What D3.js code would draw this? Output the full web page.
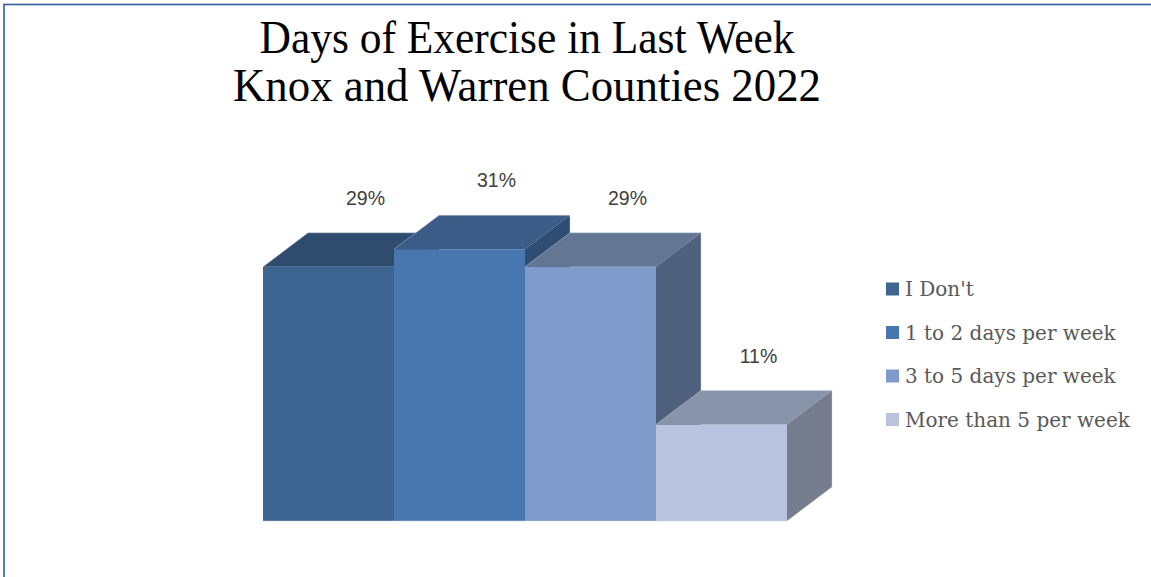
<!DOCTYPE html>
<html><head><meta charset="utf-8">
<script src="https://cdn.jsdelivr.net/npm/d3@7"></script>
<style>html,body{margin:0;padding:0;background:#fff;}svg{display:block;}</style>
</head><body>
<svg id="c" width="1151" height="577"></svg>
<script>
const categories = ["I Don't", "1 to 2 days per week", "3 to 5 days per week", "More than 5 per week"];
const values = [29, 31, 29, 11];
const frontColors = ["#3c6591", "#4877b0", "#7f9bcb", "#b8c4de"];
const topColors = ["#2f4b6e", "#3a5c86", "#637795", "#8894a9"];
const sideColors = ["#2b4566", "#2f4c72", "#4f617d", "#757c8e"];
const titleLines = ["Days of Exercise in Last Week", "Knox and Warren Counties 2022"];

const svg = d3.select("#c");
svg.append("rect").attr("x",0).attr("y",0).attr("width",1151).attr("height",577).attr("fill","#fff");
svg.append("rect").attr("x",4).attr("y",4.5).attr("width",1200).attr("height",700)
  .attr("fill","none").attr("stroke","#2f5f98").attr("stroke-width",1.6);

// title
const titleW = [535, 588];
titleLines.forEach((t,i)=>{
  const el = svg.append("text").attr("x",527).attr("y",53+i*48).attr("text-anchor","middle")
    .attr("font-family","Liberation Serif").attr("font-size",47).attr("fill","#000").text(t);
  el.attr("textLength", titleW[i]).attr("lengthAdjust","spacingAndGlyphs");
});

const x = d3.scaleBand().domain(categories).range([263, 787]).padding(0);
const y = d3.scaleLinear().domain([0, 30]).range([521, 258]);
const dx = 45, dy = -34;

const g = svg.append("g");
categories.forEach((c,i)=>{
  const x0 = x(c), x1 = x0 + x.bandwidth(), y0 = y(0), y1 = y(values[i]);
  const bg = g.append("g");
  bg.append("path").attr("d", `M${x0},${y0}L${x1},${y0}L${x1},${y1}L${x0},${y1}Z`)
    .attr("fill", frontColors[i]);
  bg.append("path").attr("d", `M${x0},${y1}L${x1},${y1}L${x1+dx},${y1+dy}L${x0+dx},${y1+dy}Z`)
    .attr("fill", topColors[i]);
  bg.append("path").attr("d", `M${x1},${y0}L${x1+dx},${y0+dy}L${x1+dx},${y1+dy}L${x1},${y1}Z`)
    .attr("fill", sideColors[i]);
  // faint light outline on outer edges
  bg.append("path").attr("d", `M${x0},${y0}L${x1},${y0}L${x1+dx},${y0+dy}L${x1+dx},${y1+dy}L${x0+dx},${y1+dy}L${x0},${y1}`)
    .attr("fill","none").attr("stroke","rgba(200,208,222,0.6)").attr("stroke-width",0.8);
});
categories.forEach((c,i)=>{
  svg.append("text").attr("x", x(c) + x.bandwidth()/2 + 37).attr("y", y(values[i]) + dy - 28)
    .attr("text-anchor","middle").attr("font-family","Liberation Sans").attr("font-size",19.5)
    .attr("fill","#404040").text(values[i] + "%");
});

const lg = svg.append("g");
categories.forEach((c,i)=>{
  const cy = 289 + i*43.5;
  lg.append("rect").attr("x",886).attr("y",cy-6.5).attr("width",13).attr("height",13).attr("fill",frontColors[i]);
  lg.append("text").attr("x",905).attr("y",cy+7).attr("font-family","DejaVu Serif").attr("font-size",20)
    .attr("fill","#595959").text(c);
});
</script>
</body></html>
